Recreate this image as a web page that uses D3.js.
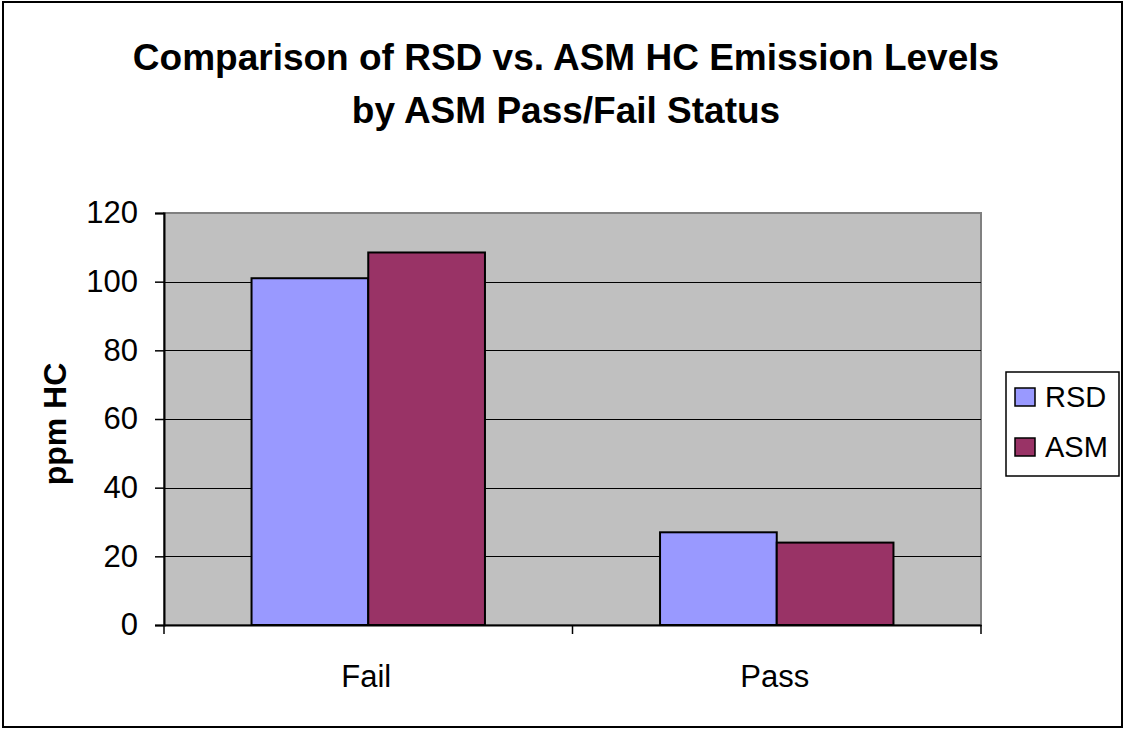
<!DOCTYPE html>
<html>
<head>
<meta charset="utf-8">
<script src="https://cdn.jsdelivr.net/npm/d3@7"></script>
<style>
  html, body { margin: 0; padding: 0; background: #fff; }
  svg { display: block; font-family: "Liberation Sans", Arial, sans-serif; }
</style>
</head>
<body>
<svg id="chart" width="1124" height="729"></svg>
<script>
// Data
const categories = ["Fail", "Pass"];
const seriesNames = ["RSD", "ASM"];
const rsdValues = [101, 27];
const asmValues = [108.5, 24];
const yTicks = [0, 20, 40, 60, 80, 100, 120];
const titleLines = ["Comparison of RSD vs. ASM HC Emission Levels", "by ASM Pass/Fail Status"];
const yLabel = "ppm HC";

const colors = { RSD: "#9999FF", ASM: "#993366" };

const svg = d3.select("#chart");
const W = 1124, H = 729;

// outer chart border
svg.append("rect")
  .attr("x", 3).attr("y", 2).attr("width", W - 5).attr("height", H - 4)
  .attr("fill", "#fff").attr("stroke", "#000").attr("stroke-width", 2);

const plot = { left: 164, right: 981, top: 213, bottom: 625 };

const x0 = d3.scaleBand().domain(categories).range([plot.left, plot.right]).paddingInner(0).paddingOuter(0);
const y = d3.scaleLinear().domain([0, 120]).range([plot.bottom, plot.top]);

// plot area background
svg.append("rect")
  .attr("x", plot.left).attr("y", plot.top)
  .attr("width", plot.right - plot.left).attr("height", plot.bottom - plot.top)
  .attr("fill", "#C0C0C0").attr("stroke", "#808080").attr("stroke-width", 2);

// gridlines
svg.append("g").selectAll("line")
  .data(yTicks.filter(d => d > 0 && d < 120))
  .join("line")
  .attr("x1", plot.left).attr("x2", plot.right)
  .attr("y1", d => Math.round(y(d)) + 0.5).attr("y2", d => Math.round(y(d)) + 0.5)
  .attr("stroke", "#000").attr("stroke-width", 1);

// bars: gap width 150% of bar width
const bandW = x0.bandwidth();
const barW = bandW / 3.5;
const x1 = d3.scaleBand().domain(seriesNames).range([0, barW * 2]);
const rows = categories.map((c, i) => ({ cat: c, RSD: rsdValues[i], ASM: asmValues[i] }));

const groups = svg.append("g").selectAll("g")
  .data(rows).join("g")
  .attr("transform", d => `translate(${x0(d.cat) + (bandW - barW * 2) / 2},0)`);

groups.selectAll("rect")
  .data(d => seriesNames.map(s => ({ s, v: d[s] })))
  .join("rect")
  .attr("x", d => x1(d.s))
  .attr("y", d => y(d.v))
  .attr("width", x1.bandwidth())
  .attr("height", d => y(0) - y(d.v))
  .attr("fill", d => colors[d.s])
  .attr("stroke", "#000").attr("stroke-width", 2);

// y axis
const yAxis = svg.append("g")
  .attr("transform", `translate(${plot.left},0)`)
  .call(d3.axisLeft(y).tickValues(yTicks).tickSize(9).tickPadding(17).tickFormat(d3.format("d")));
yAxis.select(".domain").attr("stroke", "#000").attr("stroke-width", 2);
yAxis.selectAll(".tick line").attr("stroke", "#000").attr("stroke-width", 1.5);
yAxis.selectAll(".tick text").attr("font-size", 31).attr("fill", "#000")
  .attr("font-family", "Liberation Sans, Arial, sans-serif");

// x axis
const xAxis = svg.append("g")
  .attr("transform", `translate(0,${plot.bottom})`)
  .call(d3.axisBottom(x0).tickSize(0).tickPadding(40));
xAxis.select(".domain").attr("stroke", "#000").attr("stroke-width", 2);
xAxis.selectAll(".tick text").attr("font-size", 31).attr("fill", "#000")
  .attr("font-family", "Liberation Sans, Arial, sans-serif").attr("dx", -2);
// category separator ticks
svg.append("g").selectAll("line")
  .data(categories.map(c => x0(c)).concat([plot.right]))
  .join("line")
  .attr("x1", d => d).attr("x2", d => d)
  .attr("y1", plot.bottom).attr("y2", plot.bottom + 9)
  .attr("stroke", "#000").attr("stroke-width", 1.5);

// title
svg.append("g").selectAll("text")
  .data(titleLines).join("text")
  .attr("x", 566).attr("y", (d, i) => 70 + i * 53)
  .attr("text-anchor", "middle")
  .attr("font-size", 37).attr("font-weight", "bold").attr("fill", "#000")
  .text(d => d);

// y axis title
svg.append("text")
  .attr("transform", "translate(66,424) rotate(-90)")
  .attr("text-anchor", "middle")
  .attr("font-size", 32).attr("font-weight", "bold").attr("fill", "#000")
  .text(yLabel);

// legend
const legend = svg.append("g").attr("transform", "translate(1006,372)");
legend.append("rect").attr("width", 113).attr("height", 104)
  .attr("fill", "#fff").attr("stroke", "#000").attr("stroke-width", 1.5);
const li = legend.selectAll("g.item").data(seriesNames).join("g")
  .attr("class", "item")
  .attr("transform", (d, i) => `translate(9,${16 + i * 50})`);
li.append("rect").attr("width", 20).attr("height", 18)
  .attr("fill", d => colors[d]).attr("stroke", "#000").attr("stroke-width", 1.5);
li.append("text").attr("x", 30).attr("y", 19)
  .attr("font-size", 29).attr("fill", "#000").text(d => d);
</script>
</body>
</html>
